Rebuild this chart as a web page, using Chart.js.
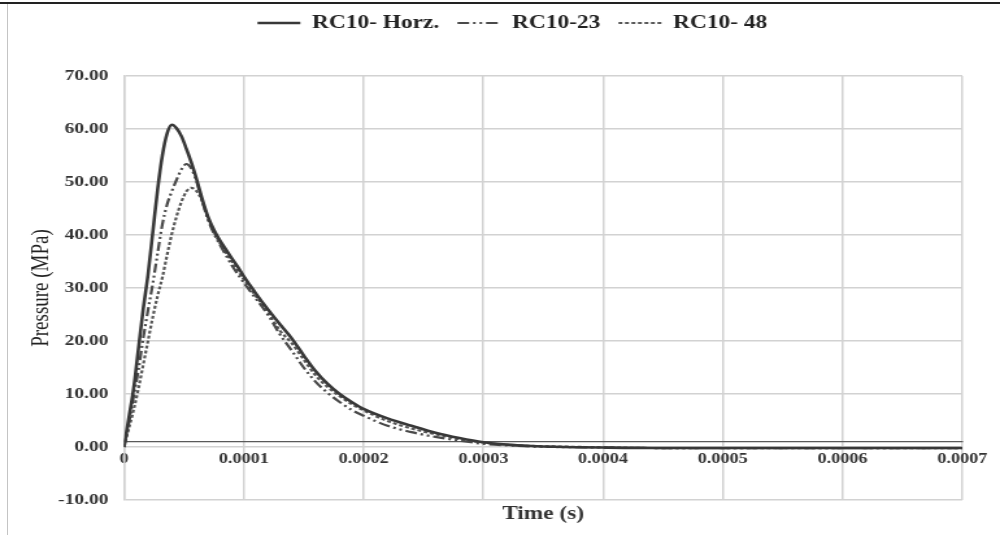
<!DOCTYPE html>
<html>
<head>
<meta charset="utf-8">
<script src="https://cdn.jsdelivr.net/npm/chart.js@4.4.1/dist/chart.umd.min.js"></script>
<style>
  html, body { margin: 0; padding: 0; background: #fff; }
  #stage { position: relative; width: 1000px; height: 535px; overflow: hidden; background: #fff; }
  #wrap { position: absolute; left: 0; top: 0; width: 770px; height: 535px; transform: scaleX(1.2987); transform-origin: 0 0; }
  #topline { position: absolute; left: 0; top: 2px; width: 1000px; height: 2px; background: #222; }
  #leftline { position: absolute; left: 7px; top: 4px; width: 1px; height: 531px; background: #c4c4c4; }
</style>
</head>
<body>
<div id="stage">
  <div id="wrap"><canvas id="c" width="770" height="535"></canvas></div>
  <div id="topline"></div>
  <div id="leftline"></div>
</div>
<script>
// ---- data ----
const seriesNames = ['RC10- Horz.', 'RC10-23', 'RC10- 48'];
const times = [0,0.000004,0.000008,0.000012,0.000016,0.00002,0.000024,0.000028,0.000032,0.000036,
  0.00004,0.000044,0.000048,0.000052,0.000056,0.00006,0.000065,0.00007,0.000075,0.00008,
  0.000085,0.00009,0.000095,0.0001,0.000105,0.00011,0.00012,0.00013,0.00014,0.00015,
  0.00016,0.00017,0.00018,0.00019,0.0002,0.00022,0.00024,0.00026,0.00028,0.0003,
  0.00032,0.00034,0.00036,0.0004,0.00045,0.0005,0.00055,0.0006,0.00065,0.0007];
const horz = [0,5.5,11,18.5,26,32.5,40.5,48.5,55,59.2,
  60.8,60.1,58.6,56.3,53.8,51,47,43.5,41,39,
  37.3,35.6,34,32.2,30.6,29,26,23.2,20.5,17.3,
  14.3,11.9,10.0,8.5,7.2,5.4,4.0,2.7,1.7,0.9,
  0.45,0.2,0.05,-0.1,-0.2,-0.2,-0.2,-0.2,-0.2,-0.2];
const rc23 = [0,4.5,9.5,14.5,20.5,25.8,30.8,36.5,42,45.8,
  48.3,50.5,52.4,53.4,52.6,50.5,46.6,43,40.3,38.2,
  36.2,34.3,32.6,31,29.5,28,25,21.3,18.2,15.0,
  12.3,10.2,8.5,7.0,5.9,4.0,2.8,1.9,1.2,0.6,
  0.3,0.1,0,-0.1,-0.2,-0.2,-0.2,-0.2,-0.2,-0.2];
const rc48 = [0,3.5,7,11,15.5,20,24.5,28.5,32,36.3,
  40.3,43.6,46.3,48.2,48.9,48.4,46.5,43.2,40.6,38.5,
  36.7,35,33.3,31.6,30,28.5,25.5,22,19.6,16.5,
  13.5,11.3,9.6,8.1,6.9,4.9,3.5,2.4,1.5,0.85,
  0.4,0.2,0.1,-0.05,-0.2,-0.2,-0.2,-0.2,-0.2,-0.2];
const xTickLabels = ['0','0.0001','0.0002','0.0003','0.0004','0.0005','0.0006','0.0007'];
const yMin = -10, yMax = 70, yStep = 10;
const xMin = 0, xMax = 0.0007, xStep = 0.0001;
const xTitle = 'Time (s)';
const yTitle = 'Pressure (MPa)';

// ---- chart ----
const toPts = vals => times.map((t, i) => ({ x: t, y: vals[i] }));
const serif = "'Liberation Serif', 'Times New Roman', serif";

const fixLegend = {
  id: 'fixLegend',
  afterInit(chart) {
    const lg = chart.legend;
    const orig = lg.fit;
    lg.fit = function () { orig.call(this); this.height = 76; };
  },
  afterLayout(chart) {
    const lg = chart.legend;
    lg.left += 24; lg.right += 24;
  }
};

new Chart(document.getElementById('c'), {
  type: 'line',
  data: {
    datasets: [
      { label: seriesNames[0], data: toPts(horz), borderColor: '#383838', backgroundColor: '#383838',
        borderWidth: 2.6, pointRadius: 0, cubicInterpolationMode: 'monotone' },
      { label: seriesNames[1], data: toPts(rc23), borderColor: '#4a4a4a', backgroundColor: '#4a4a4a',
        borderWidth: 2.2, borderDash: [9, 3, 2, 3, 2, 3], pointRadius: 0, cubicInterpolationMode: 'monotone' },
      { label: seriesNames[2], data: toPts(rc48), borderColor: '#575757', backgroundColor: '#575757',
        borderWidth: 2.2, borderDash: [3, 2], pointRadius: 0, cubicInterpolationMode: 'monotone' }
    ]
  },
  options: {
    responsive: false,
    animation: false,
    devicePixelRatio: 1,
    layout: { padding: { left: 0, right: 29, top: 0, bottom: 0 } },
    plugins: {
      tooltip: { enabled: false },
      legend: {
        position: 'top',
        align: 'center',
        labels: {
          usePointStyle: true, pointStyle: 'line', pointStyleWidth: 33,
          boxWidth: 33, boxHeight: 12, padding: 14,
          color: '#222',
          font: { family: serif, size: 18, weight: 'bold' },
          generateLabels(chart) {
            const items = Chart.defaults.plugins.legend.labels.generateLabels(chart);
            items.forEach((it, i) => {
              const ds = chart.data.datasets[i];
              it.lineDash = ds.borderDash || [];
              it.lineWidth = ds.borderWidth;
              it.strokeStyle = ds.borderColor;
              it.fillStyle = ds.borderColor;
              it.pointStyle = 'line';
            });
            return items;
          }
        }
      }
    },
    scales: {
      x: {
        type: 'linear',
        min: xMin, max: xMax,
        position: { y: 1 },
        grid: { color: '#d2d2d2', lineWidth: 1.5, drawTicks: false },
        border: { display: true, color: '#5a5a5a', width: 1.2 },
        ticks: {
          stepSize: xStep, padding: 9, color: '#333',
          font: { family: serif, size: 14, weight: 'bold' },
          maxRotation: 0, autoSkip: false,
          callback: (v, i) => xTickLabels[i]
        }
      },
      xt: {
        type: 'linear', position: 'bottom', min: xMin, max: xMax,
        grid: { display: false, drawTicks: false },
        border: { display: false },
        ticks: { display: false },
        title: { display: true, text: xTitle, color: '#333',
          font: { family: serif, size: 18, weight: 'bold' }, padding: { top: 0, bottom: 10 } },
        afterFit(s) { s.height = 35; }
      },
      y: {
        min: yMin, max: yMax,
        grid: { color: '#d2d2d2', lineWidth: 1.5, drawTicks: false },
        border: { display: true, color: '#d2d2d2', width: 1.5 },
        ticks: {
          stepSize: yStep, padding: 12, color: '#333',
          font: { family: serif, size: 15, weight: 'bold' },
          callback: v => Number(v).toFixed(2)
        },
        title: { display: true, text: yTitle, color: '#222',
          font: { family: serif, size: 19 }, padding: { top: 21, bottom: 0 } },
        afterFit(s) { s.width = 95.5; }
      }
    }
  },
  plugins: [fixLegend]
});
</script>
</body>
</html>
